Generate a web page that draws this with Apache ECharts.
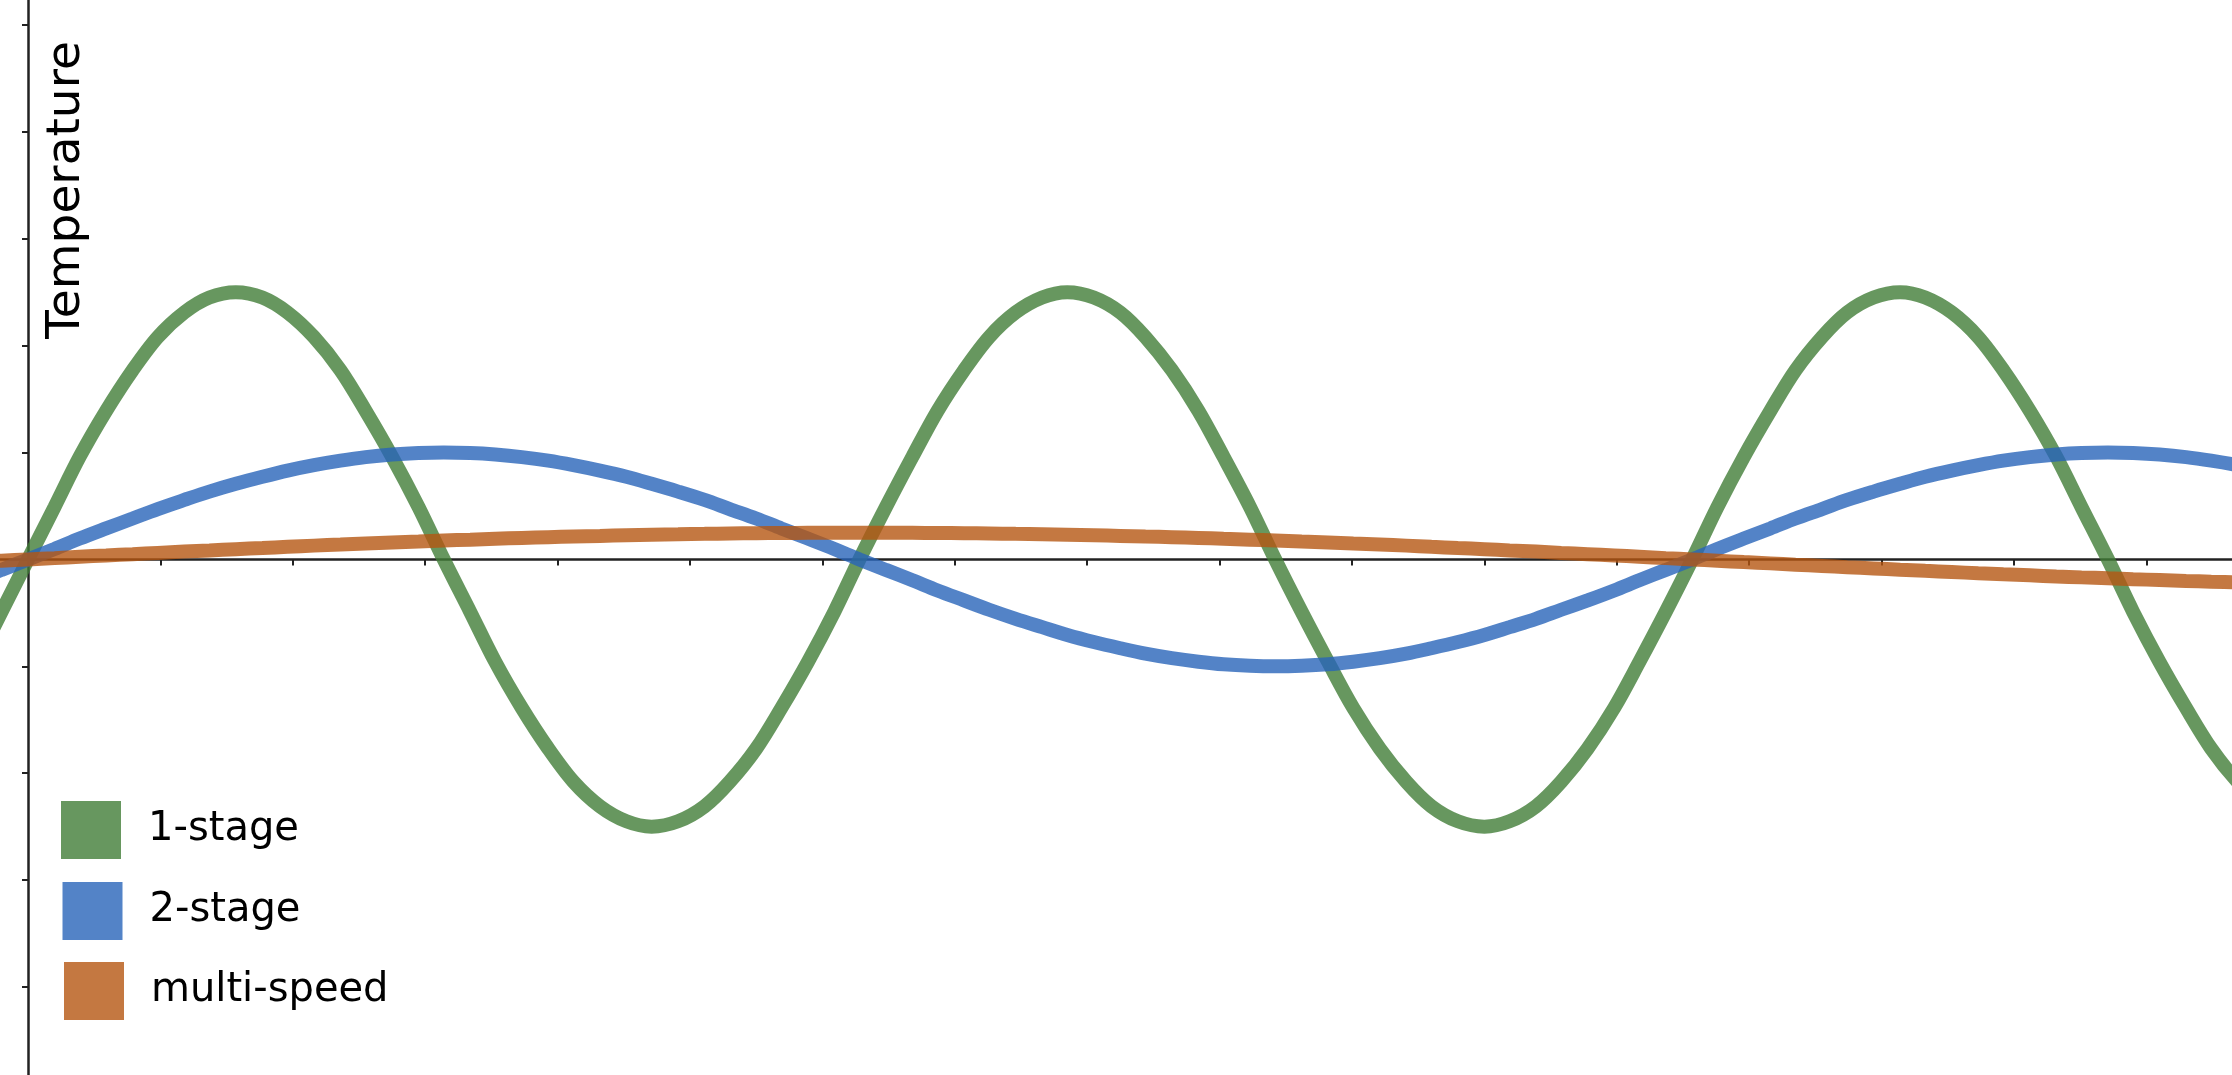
<!DOCTYPE html>
<html>
<head>
<meta charset="utf-8">
<script src="https://cdn.jsdelivr.net/npm/echarts@6/dist/echarts.min.js"></script>
<style>
html,body{margin:0;padding:0;background:#fff;}
#chart{width:2232px;height:1075px;}
</style>
</head>
<body>
<div id="chart"></div>
<script>
// Sample positions along the x axis
const xValues = [-0.39, -0.20, 0, 0.20, 0.39, 0.59, 0.79, 0.98, 1.18, 1.37, 1.57, 1.77, 1.96, 2.16, 2.36, 2.55, 2.75, 2.95,
  3.14, 3.34, 3.53, 3.73, 3.93, 4.12, 4.32, 4.52, 4.71, 4.91, 5.11, 5.30, 5.50, 5.69, 5.89, 6.09,
  6.28, 6.48, 6.68, 6.87, 7.07, 7.26, 7.46, 7.66, 7.85, 8.05, 8.25, 8.44, 8.64, 8.84, 9.03, 9.23,
  9.42, 9.62, 9.82, 10.01, 10.21, 10.41, 10.60, 10.80, 11.00, 11.19, 11.39, 11.58, 11.78, 11.98, 12.17, 12.37,
  12.57, 12.76, 12.96, 13.16, 13.35, 13.55, 13.74, 13.94, 14.14, 14.33, 14.53, 14.73, 14.92, 15.12, 15.32, 15.51,
  15.71, 15.90, 16.10, 16.30, 16.49, 16.69, 16.89];

const oneStage = [-0.96, -0.49,
  0, 0.49, 0.96, 1.39, 1.77, 2.08, 2.31, 2.45, 2.5, 2.45, 2.31, 2.08, 1.77, 1.39, 0.96, 0.49,
  0, -0.49, -0.96, -1.39, -1.77, -2.08, -2.31, -2.45, -2.5, -2.45, -2.31, -2.08, -1.77, -1.39, -0.96, -0.49,
  0, 0.49, 0.96, 1.39, 1.77, 2.08, 2.31, 2.45, 2.5, 2.45, 2.31, 2.08, 1.77, 1.39, 0.96, 0.49,
  0, -0.49, -0.96, -1.39, -1.77, -2.08, -2.31, -2.45, -2.5, -2.45, -2.31, -2.08, -1.77, -1.39, -0.96, -0.49,
  0, 0.49, 0.96, 1.39, 1.77, 2.08, 2.31, 2.45, 2.5, 2.45, 2.31, 2.08, 1.77, 1.39, 0.96, 0.49,
  0, -0.49, -0.96, -1.39, -1.77, -2.08, -2.31];

const twoStage = [-0.195, -0.098,
  0, 0.098, 0.195, 0.29, 0.383, 0.471, 0.556, 0.634, 0.707, 0.773, 0.831, 0.882, 0.924, 0.957, 0.981, 0.995,
  1, 0.995, 0.981, 0.957, 0.924, 0.882, 0.831, 0.773, 0.707, 0.634, 0.556, 0.471, 0.383, 0.29, 0.195, 0.098,
  0, -0.098, -0.195, -0.29, -0.383, -0.471, -0.556, -0.634, -0.707, -0.773, -0.831, -0.882, -0.924, -0.957, -0.981, -0.995,
  -1, -0.995, -0.981, -0.957, -0.924, -0.882, -0.831, -0.773, -0.707, -0.634, -0.556, -0.471, -0.383, -0.29, -0.195, -0.098,
  0, 0.098, 0.195, 0.29, 0.383, 0.471, 0.556, 0.634, 0.707, 0.773, 0.831, 0.882, 0.924, 0.957, 0.981, 0.995,
  1, 0.995, 0.981, 0.957, 0.924, 0.882, 0.831];

const multiSpeed = [-0.025, -0.012,
  0, 0.012, 0.025, 0.037, 0.049, 0.061, 0.073, 0.084, 0.096, 0.107, 0.118, 0.129, 0.139, 0.149, 0.159, 0.168,
  0.177, 0.185, 0.193, 0.201, 0.208, 0.214, 0.22, 0.226, 0.231, 0.235, 0.239, 0.243, 0.245, 0.247, 0.249, 0.25,
  0.25, 0.25, 0.249, 0.247, 0.245, 0.243, 0.239, 0.235, 0.231, 0.226, 0.22, 0.214, 0.208, 0.201, 0.193, 0.185,
  0.177, 0.168, 0.159, 0.149, 0.139, 0.129, 0.118, 0.107, 0.096, 0.084, 0.073, 0.061, 0.049, 0.037, 0.025, 0.012,
  0, -0.012, -0.025, -0.037, -0.049, -0.061, -0.073, -0.084, -0.096, -0.107, -0.118, -0.129, -0.139, -0.149, -0.159, -0.168,
  -0.177, -0.185, -0.193, -0.201, -0.208, -0.214, -0.22];

const seriesNames = ['1-stage', '2-stage', 'multi-speed'];
const xTicks = [1, 2, 3, 4, 5, 6, 7, 8, 9, 10, 11, 12, 13, 14, 15, 16];
const yTicks = [-4, -3, -2, -1, 0, 1, 2, 3, 4, 5];
const yAxisTitle = 'Temperature';

const lineColors = ['#417d37', '#2864b9', '#b55611'];
const legendColors = ['#67975f', '#5383c7', '#c47841'];
const legendLeft = [61, 62.5, 64];
const legendTop = [801, 882, 962];

function pairs(ys) { return xValues.map((x, i) => [x, ys[i]]); }
const allSeries = [oneStage, twoStage, multiSpeed];

const chart = echarts.init(document.getElementById('chart'), null, {renderer: 'canvas'});
chart.setOption({
  animation: false,
  backgroundColor: '#ffffff',
  grid: {left: 0, right: 0, top: 0, bottom: 0, containLabel: false},
  xAxis: {
    type: 'value', min: -0.2115, max: 16.647,
    axisLine: {show: true, onZero: true, lineStyle: {color: '#222', width: 2.5}},
    axisTick: {show: true, customValues: xTicks, length: 6, inside: false, lineStyle: {color: '#222', width: 2}},
    axisLabel: {show: false},
    splitLine: {show: false}
  },
  yAxis: {
    type: 'value', min: -4.823, max: 5.233,
    axisLine: {show: true, onZero: true, lineStyle: {color: '#222', width: 2.5}},
    axisTick: {show: true, customValues: yTicks, length: 6, inside: false, lineStyle: {color: '#222', width: 2}},
    axisLabel: {show: false},
    splitLine: {show: false}
  },
  legend: seriesNames.map((n, i) => ({
    orient: 'vertical', left: legendLeft[i], top: legendTop[i], padding: 0,
    icon: 'rect', itemWidth: 60, itemHeight: 58,
    textStyle: {fontFamily: 'DejaVu Sans', fontSize: 40, color: '#000', padding: [10, 0, 0, 22]},
    data: [{name: n, itemStyle: {color: legendColors[i], opacity: 1}}]
  })),
  graphic: [{
    type: 'text', x: 67, y: 190, rotation: Math.PI / 2,
    style: {text: yAxisTitle, font: '47px "DejaVu Sans"', fill: '#000', align: 'center', verticalAlign: 'middle'}
  }],
  series: seriesNames.map((n, i) => ({
    name: n, type: 'line', data: pairs(allSeries[i]),
    smooth: 0.33, showSymbol: false, symbol: 'none',
    lineStyle: {color: lineColors[i], width: 14, opacity: 0.8},
    itemStyle: {color: legendColors[i]},
    z: 2 + i
  }))
});
</script>
</body>
</html>
